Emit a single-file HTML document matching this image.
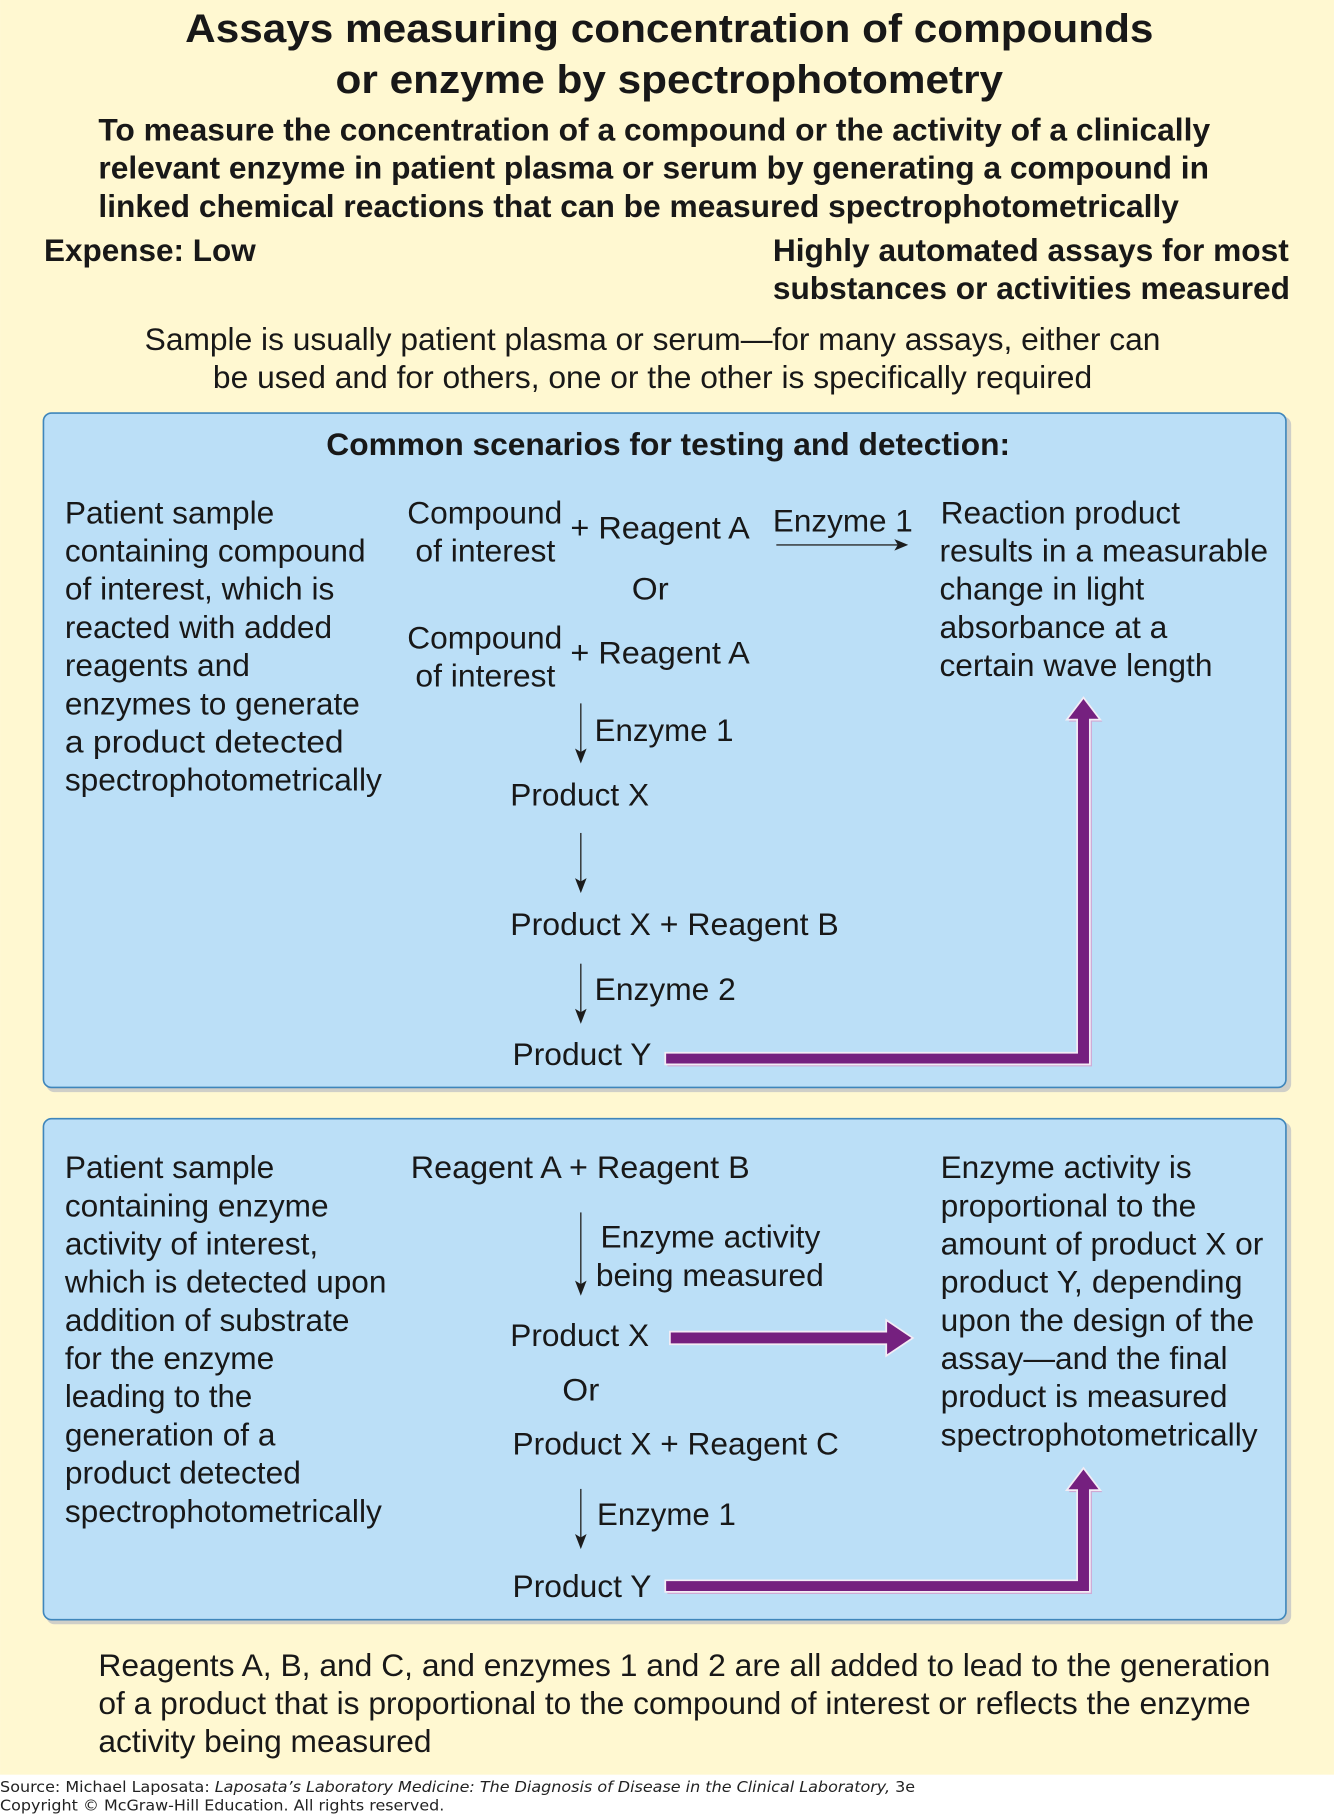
<!DOCTYPE html>
<html lang="en"><head><meta charset="utf-8"><title>Assays measuring concentration of compounds or enzyme by spectrophotometry</title>
<style>
html,body{margin:0;padding:0;background:#fff;width:1334px;height:1814px;overflow:hidden}
svg{display:block}
text{font-family:"Liberation Sans",sans-serif;fill:#181818;font-size:27.4px}
.t{font-size:34.6px;font-weight:bold}
.b{font-weight:bold}
.f{font-family:"DejaVu Sans",sans-serif;font-size:13px;fill:#222}
.a{fill:#75207f;stroke:#f4ecf5;stroke-width:1.5}
.s{fill:#cfa9d4;stroke:none}
.l{stroke:#2a2a2a;stroke-width:1.2;fill:none}
.h{fill:#1c1c1c;stroke:none}
</style></head><body>
<svg xmlns="http://www.w3.org/2000/svg" width="1334" height="1814" viewBox="0 0 1153 1568">
<rect width="1153" height="1534" fill="#fff8d1"/>
<rect x="40" y="360" width="1076" height="584" rx="7" fill="#cfcfc8"/>
<rect x="40" y="970" width="1076" height="434" rx="7" fill="#cfcfc8"/>
<rect x="37.5" y="357" width="1074" height="583" rx="7" fill="#bbdff7" stroke="#3f86bb" stroke-width="1.4"/>
<rect x="37.5" y="967" width="1074" height="433" rx="7" fill="#bbdff7" stroke="#3f86bb" stroke-width="1.4"/>

<g transform="translate(0,0.4)">
<text class="t" x="160" y="36" textLength="837" lengthAdjust="spacingAndGlyphs">Assays measuring concentration of compounds</text>
<text class="t" x="290" y="80" textLength="577" lengthAdjust="spacingAndGlyphs">or enzyme by spectrophotometry</text>
<text class="b" x="85" y="121" textLength="961" lengthAdjust="spacingAndGlyphs">To measure the concentration of a compound or the activity of a clinically</text>
<text class="b" x="85" y="154" textLength="960" lengthAdjust="spacingAndGlyphs">relevant enzyme in patient plasma or serum by generating a compound in</text>
<text class="b" x="85" y="187" textLength="934" lengthAdjust="spacingAndGlyphs">linked chemical reactions that can be measured spectrophotometrically</text>
<text class="b" x="38" y="225" textLength="183" lengthAdjust="spacingAndGlyphs">Expense: Low</text>
<text class="b" x="668" y="225" textLength="446" lengthAdjust="spacingAndGlyphs">Highly automated assays for most</text>
<text class="b" x="668" y="258" textLength="447" lengthAdjust="spacingAndGlyphs">substances or activities measured</text>
<text x="125" y="302" textLength="878" lengthAdjust="spacingAndGlyphs">Sample is usually patient plasma or serum—for many assays, either can</text>
<text x="184" y="335" textLength="760" lengthAdjust="spacingAndGlyphs">be used and for others, one or the other is specifically required</text>
<text class="b" x="282" y="393" textLength="591" lengthAdjust="spacingAndGlyphs">Common scenarios for testing and detection:</text>

<text x="56" y="452" textLength="181" lengthAdjust="spacingAndGlyphs">Patient sample</text>
<text x="56" y="485" textLength="260" lengthAdjust="spacingAndGlyphs">containing compound</text>
<text x="56" y="518" textLength="233" lengthAdjust="spacingAndGlyphs">of interest, which is</text>
<text x="56" y="551" textLength="231" lengthAdjust="spacingAndGlyphs">reacted with added</text>
<text x="56" y="584" textLength="160" lengthAdjust="spacingAndGlyphs">reagents and</text>
<text x="56" y="617" textLength="255" lengthAdjust="spacingAndGlyphs">enzymes to generate</text>
<text x="56" y="650" textLength="241" lengthAdjust="spacingAndGlyphs">a product detected</text>
<text x="56" y="683" textLength="274" lengthAdjust="spacingAndGlyphs">spectrophotometrically</text>

<text x="352" y="452" textLength="134" lengthAdjust="spacingAndGlyphs">Compound</text>
<text x="359" y="485" textLength="121" lengthAdjust="spacingAndGlyphs">of interest</text>
<text x="493" y="465" textLength="155" lengthAdjust="spacingAndGlyphs">+ Reagent A</text>
<text x="668" y="459" textLength="121" lengthAdjust="spacingAndGlyphs">Enzyme 1</text>
<text x="546" y="518" textLength="32" lengthAdjust="spacingAndGlyphs">Or</text>
<text x="352" y="560" textLength="134" lengthAdjust="spacingAndGlyphs">Compound</text>
<text x="359" y="593" textLength="121" lengthAdjust="spacingAndGlyphs">of interest</text>
<text x="493" y="573" textLength="155" lengthAdjust="spacingAndGlyphs">+ Reagent A</text>
<text x="514" y="640" textLength="120" lengthAdjust="spacingAndGlyphs">Enzyme 1</text>
<text x="441" y="696" textLength="120" lengthAdjust="spacingAndGlyphs">Product X</text>
<text x="441" y="808" textLength="284" lengthAdjust="spacingAndGlyphs">Product X + Reagent B</text>
<text x="514" y="864" textLength="122" lengthAdjust="spacingAndGlyphs">Enzyme 2</text>
<text x="443" y="920" textLength="120" lengthAdjust="spacingAndGlyphs">Product Y</text>

<text x="813" y="452" textLength="207" lengthAdjust="spacingAndGlyphs">Reaction product</text>
<text x="812" y="485" textLength="284" lengthAdjust="spacingAndGlyphs">results in a measurable</text>
<text x="812" y="518" textLength="177" lengthAdjust="spacingAndGlyphs">change in light</text>
<text x="812" y="551" textLength="197" lengthAdjust="spacingAndGlyphs">absorbance at a</text>
<text x="812" y="584" textLength="236" lengthAdjust="spacingAndGlyphs">certain wave length</text>

<text x="56" y="1018" textLength="181" lengthAdjust="spacingAndGlyphs">Patient sample</text>
<text x="56" y="1051" textLength="228" lengthAdjust="spacingAndGlyphs">containing enzyme</text>
<text x="56" y="1084" textLength="219" lengthAdjust="spacingAndGlyphs">activity of interest,</text>
<text x="56" y="1117" textLength="278" lengthAdjust="spacingAndGlyphs">which is detected upon</text>
<text x="56" y="1150" textLength="246" lengthAdjust="spacingAndGlyphs">addition of substrate</text>
<text x="56" y="1183" textLength="181" lengthAdjust="spacingAndGlyphs">for the enzyme</text>
<text x="56" y="1216" textLength="162" lengthAdjust="spacingAndGlyphs">leading to the</text>
<text x="56" y="1249" textLength="182" lengthAdjust="spacingAndGlyphs">generation of a</text>
<text x="56" y="1282" textLength="204" lengthAdjust="spacingAndGlyphs">product detected</text>
<text x="56" y="1315" textLength="274" lengthAdjust="spacingAndGlyphs">spectrophotometrically</text>

<text x="355" y="1018" textLength="293" lengthAdjust="spacingAndGlyphs">Reagent A + Reagent B</text>
<text x="519" y="1078" textLength="190" lengthAdjust="spacingAndGlyphs">Enzyme activity</text>
<text x="515" y="1111" textLength="197" lengthAdjust="spacingAndGlyphs">being measured</text>
<text x="441" y="1163" textLength="120" lengthAdjust="spacingAndGlyphs">Product X</text>
<text x="486" y="1210" textLength="32" lengthAdjust="spacingAndGlyphs">Or</text>
<text x="443" y="1257" textLength="282" lengthAdjust="spacingAndGlyphs">Product X + Reagent C</text>
<text x="516" y="1318" textLength="120" lengthAdjust="spacingAndGlyphs">Enzyme 1</text>
<text x="443" y="1380" textLength="120" lengthAdjust="spacingAndGlyphs">Product Y</text>

<text x="813" y="1018" textLength="217" lengthAdjust="spacingAndGlyphs">Enzyme activity is</text>
<text x="813" y="1051" textLength="221" lengthAdjust="spacingAndGlyphs">proportional to the</text>
<text x="813" y="1084" textLength="279" lengthAdjust="spacingAndGlyphs">amount of product X or</text>
<text x="813" y="1117" textLength="261" lengthAdjust="spacingAndGlyphs">product Y, depending</text>
<text x="813" y="1150" textLength="271" lengthAdjust="spacingAndGlyphs">upon the design of the</text>
<text x="813" y="1183" textLength="248" lengthAdjust="spacingAndGlyphs">assay—and the final</text>
<text x="813" y="1216" textLength="248" lengthAdjust="spacingAndGlyphs">product is measured</text>
<text x="813" y="1249" textLength="274" lengthAdjust="spacingAndGlyphs">spectrophotometrically</text>

<text x="85" y="1448.4" textLength="1013" lengthAdjust="spacingAndGlyphs">Reagents A, B, and C, and enzymes 1 and 2 are all added to lead to the generation</text>
<text x="85" y="1481" textLength="996" lengthAdjust="spacingAndGlyphs">of a product that is proportional to the compound of interest or reflects the enzyme</text>
<text x="85" y="1514" textLength="288" lengthAdjust="spacingAndGlyphs">activity being measured</text>
</g>

<text class="f" x="0" y="1549" textLength="791" lengthAdjust="spacingAndGlyphs">Source: Michael Laposata: <tspan font-style="italic">Laposata’s Laboratory Medicine: The Diagnosis of Disease in the Clinical Laboratory,</tspan> 3e</text>
<text class="f" x="0" y="1565" textLength="384" lengthAdjust="spacingAndGlyphs">Copyright © McGraw-Hill Education. All rights reserved.</text>

<!-- thin arrows -->
<path class="l" d="M671 471H778"/><path class="h" d="M785 471L773 466L776 471L773 476Z"/>
<path class="l" d="M502 608V653"/><path class="h" d="M502 660L497 647L502 650L507 647Z"/>
<path class="l" d="M502 720V765"/><path class="h" d="M502 772L497 759L502 762L507 759Z"/>
<path class="l" d="M502 833V878"/><path class="h" d="M502 885L497 872L502 875L507 872Z"/>
<path class="l" d="M502 1048V1113"/><path class="h" d="M502 1120L497 1107L502 1110L507 1107Z"/>
<path class="l" d="M502 1287V1332"/><path class="h" d="M502 1339L497 1326L502 1329L507 1326Z"/>

<!-- thick purple arrows -->
<path class="s" transform="translate(1.8,1.8)" d="M575 910H931V622H922L936.5 603L951 622H942V920H575Z"/>
<path class="a" d="M575 910H931V622H922L936.5 603L951 622H942V920H575Z"/>
<path class="a" d="M579 1151H766V1141L789 1156.5L766 1172V1162H579Z"/>
<path class="s" transform="translate(1.8,1.8)" d="M575 1366H931V1288H922L936.5 1269L951 1288H942V1376H575Z"/>
<path class="a" d="M575 1366H931V1288H922L936.5 1269L951 1288H942V1376H575Z"/>
</svg>
</body></html>
